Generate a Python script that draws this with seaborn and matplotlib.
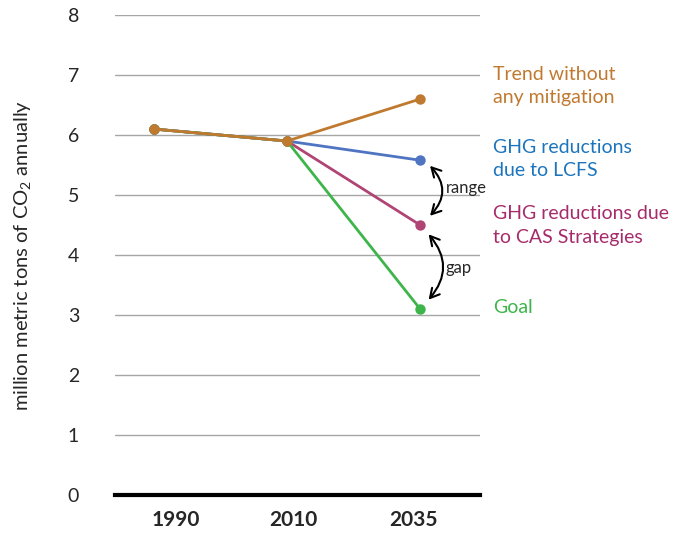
import numpy as np
import pandas as pd
import matplotlib
matplotlib.use("Agg")
import matplotlib.pyplot as plt
import seaborn as sns

# Data
years = ["1990", "2010", "2035"]
trend = [6.1, 5.9, 6.6]
lcfs = [6.1, 5.9, 5.58]
cas = [6.1, 5.9, 4.5]
goal = [6.1, 5.9, 3.1]

labels = ["Trend without\nany mitigation", "GHG reductions\ndue to LCFS",
          "GHG reductions due\nto CAS Strategies", "Goal"]
label_y = [6.82, 5.6, 4.49, 3.12]

sns.set_theme(style="white")
plt.rcParams["font.family"] = ["Lato", "DejaVu Sans"]
plt.rcParams["mathtext.default"] = "regular"

fig = plt.figure(figsize=(6.78, 5.38), dpi=100)
ax = fig.add_axes([0.17, 0.08, 0.538, 0.892])

x = np.arange(len(years))
line_colors = ["#4F74C2", "#B04575", "#3DB54A", "#C07A30"]
text_colors = ["#C07A30", "#1C75BC", "#A62B6B", "#3DB54A"]

# draw reductions first, trend on top
for vals, c in zip([lcfs, cas, goal, trend], line_colors):
    sns.lineplot(x=x, y=vals, color=c, marker="o", markersize=7.5,
                 markeredgewidth=0, linewidth=2, ax=ax)

ax.set_ylim(0, 8)
ax.set_xlim(-0.29, 2.45)
ax.set_yticks(range(0, 9))
# year labels sit slightly off the points in the original
ax.set_xticks(x + np.array([0.165, 0.045, -0.05]))
ax.set_xticklabels(years, fontsize=15, fontweight="bold")
ax.tick_params(axis="y", labelsize=14, length=0, pad=26)
ax.tick_params(axis="x", length=0, pad=11)
for y in range(1, 9):
    ax.axhline(y, color="#A6A6A6", linewidth=1, zorder=0)
for s in ["top", "right", "left"]:
    ax.spines[s].set_visible(False)
ax.spines["bottom"].set_color("black")
ax.spines["bottom"].set_linewidth(3)
ax.set_ylabel("million metric tons of CO$_2$ annually", fontsize=14.5, labelpad=25)

for lab, ly, c in zip(labels, label_y, text_colors):
    ax.text(2.55, ly, lab, color=c, fontsize=14, va="center", ha="left",
            clip_on=False, linespacing=1.45)

# curved double arrows
arrow = dict(arrowstyle="<->,head_length=0.55,head_width=0.3",
             color="black", lw=1.5)
ax.annotate("", xy=(2.06, 4.62), xytext=(2.06, 5.52),
            arrowprops=dict(arrow, connectionstyle="arc3,rad=-0.5"))
ax.annotate("", xy=(2.05, 3.22), xytext=(2.05, 4.38),
            arrowprops=dict(arrow, connectionstyle="arc3,rad=-0.45"))
ax.text(2.19, 5.12, "range", fontsize=12, va="center", ha="left")
ax.text(2.19, 3.78, "gap", fontsize=12, va="center", ha="left")

fig.savefig("out.png", dpi=100)
